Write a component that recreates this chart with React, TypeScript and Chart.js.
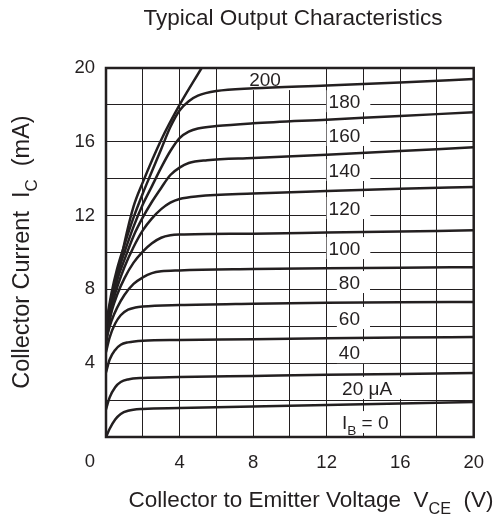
import React, { useEffect, useRef } from "react";
import { Chart, registerables } from "chart.js";

Chart.register(...registerables);

// ---- Data ----
const ib20V = [0, 0.2, 0.5, 0.8, 1.2, 2, 4, 8, 12, 16, 20];
const ib20I = [0, 0.45, 0.95, 1.25, 1.42, 1.52, 1.57, 1.65, 1.73, 1.81, 1.9];

const ib40V = [0, 0.2, 0.5, 0.8, 1.2, 2, 4, 8, 12, 16, 20];
const ib40I = [1.5, 2.15, 2.7, 2.98, 3.12, 3.2, 3.25, 3.31, 3.37, 3.42, 3.47];

const ib60V = [0, 0.2, 0.5, 0.8, 1.2, 2, 4, 8, 12, 16, 20];
const ib60I = [3.5, 4.2, 4.72, 5.0, 5.13, 5.22, 5.26, 5.3, 5.35, 5.39, 5.42];

const ib80V = [0, 0.2, 0.5, 0.8, 1.2, 1.6, 2, 4, 8, 12, 16, 20];
const ib80I = [4.6, 5.4, 6.15, 6.6, 6.9, 7.02, 7.07, 7.15, 7.22, 7.27, 7.3, 7.32];

const ib100V = [0, 0.3, 0.6, 1, 1.5, 2, 2.5, 3, 4, 8, 12, 16, 20];
const ib100I = [5.3, 6.3, 7.0, 7.7, 8.3, 8.65, 8.88, 8.98, 9.03, 9.1, 9.15, 9.18, 9.2];

const ib120V = [0, 0.3, 0.6, 1, 1.5, 2, 2.5, 3, 3.5, 4, 8, 12, 16, 20];
const ib120I = [5.6, 6.8, 7.7, 8.6, 9.45, 10.05, 10.5, 10.8, 10.93, 10.97, 11.02, 11.08, 11.14, 11.2];

const ib140V = [0, 0.3, 0.6, 1, 1.5, 2, 2.5, 3, 3.5, 4, 5, 8, 12, 16, 20];
const ib140I = [5.8, 7.1, 8.1, 9.2, 10.3, 11.2, 11.85, 12.35, 12.7, 12.9, 13.05, 13.2, 13.33, 13.45, 13.55];

const ib160V = [0, 0.3, 0.6, 1, 1.5, 2, 2.5, 3, 3.5, 4, 4.5, 5.5, 8, 12, 16, 20];
const ib160I = [5.9, 7.4, 8.5, 9.6, 10.9, 11.9, 12.75, 13.5, 14.2, 14.6, 14.85, 15.0, 15.12, 15.3, 15.5, 15.7];

const ib180V = [0, 0.3, 0.6, 1, 1.5, 2, 2.5, 3, 3.5, 4, 4.5, 5, 6, 8, 12, 16, 20];
const ib180I = [6.0, 7.6, 8.8, 10.0, 11.4, 12.6, 13.6, 14.6, 15.5, 16.2, 16.55, 16.72, 16.85, 17.0, 17.2, 17.4, 17.6];

const ib200V = [0, 0.3, 0.6, 1, 1.5, 2, 2.5, 3, 3.5, 4, 4.5, 5, 6, 8, 12, 16, 20];
const ib200I = [6.1, 7.8, 9.1, 10.4, 11.9, 13.2, 14.4, 15.6, 16.8, 17.7, 18.2, 18.5, 18.75, 18.9, 19.05, 19.22, 19.4];

const satV = [0, 0.3, 0.6, 1, 1.5, 2, 3, 4, 5.2];
const satI = [5.0, 6.9, 8.5, 10.5, 12.5, 13.8, 16.1, 18.0, 20.0];

const curveLabelText = ["200", "180", "160", "140", "120", "100", "80", "60", "40", "20 μA", "I_{B} = 0"];
const curveLabelV = [8.65, 12.97, 12.97, 12.97, 12.97, 12.97, 13.24, 13.24, 13.24, 14.2, 14.1];
const curveLabelI = [19.4, 18.2, 16.37, 14.47, 12.41, 10.24, 8.4, 6.45, 4.6, 2.66, 0.81];

const xTickValues = [4, 8, 12, 16, 20];
const yTickValues = [4, 8, 12, 16, 20];
const cornerTick = "0";

const chartTitle = "Typical Output Characteristics";
const xTitle = "Collector to Emitter Voltage  V_{CE}  (V)";
const yTitle = "Collector Current  I_{C}  (mA)";

// ---- Styling ----
const INK = "#231f20";
const FONT = '"Liberation Sans", Arial, Helvetica, sans-serif';
const TICK_SIZE = 18.5;
const LABEL_SIZE = 19;
const TITLE_SIZE = 22.5;
const YTITLE_SIZE = 23.5;

type Part = { t: string; sub: boolean };
function parseRich(s: string): Part[] {
  const parts: Part[] = [];
  const re = /_\{([^}]*)\}/g;
  let last = 0;
  let m: RegExpExecArray | null;
  while ((m = re.exec(s))) {
    if (m.index > last) parts.push({ t: s.slice(last, m.index), sub: false });
    parts.push({ t: m[1], sub: true });
    last = m.index + m[0].length;
  }
  if (last < s.length) parts.push({ t: s.slice(last), sub: false });
  return parts;
}

function richWidth(ctx: CanvasRenderingContext2D, parts: Part[], size: number) {
  let w = 0;
  for (const p of parts) {
    ctx.font = `${p.sub ? size * 0.72 : size}px ${FONT}`;
    w += ctx.measureText(p.t).width;
  }
  return w;
}

function drawRich(ctx: CanvasRenderingContext2D, s: string, x: number, y: number, size: number, align: "left" | "center") {
  const parts = parseRich(s);
  const w = richWidth(ctx, parts, size);
  let cx = align === "center" ? x - w / 2 : x;
  ctx.textAlign = "left";
  ctx.textBaseline = "alphabetic";
  const base = y + size * 0.36;
  for (const p of parts) {
    const fs = p.sub ? size * 0.72 : size;
    ctx.font = `${fs}px ${FONT}`;
    ctx.fillText(p.t, cx, p.sub ? base + size * 0.3 : base);
    cx += ctx.measureText(p.t).width;
  }
  return w;
}

function makeSet(vs: number[], is: number[]) {
  return {
    data: vs.map((v, k) => ({ x: v, y: is[k] })),
    borderColor: INK,
    borderWidth: 2.5,
    pointRadius: 0,
    fill: false,
    cubicInterpolationMode: "monotone" as const,
  };
}

const decorPlugin = {
  id: "decor",
  beforeDatasetsDraw(chart: any) {
    const ctx: CanvasRenderingContext2D = chart.ctx;
    const xs = chart.scales.x;
    const ys = chart.scales.y;
    ctx.save();
    curveLabelText.forEach((txt, k) => {
      const cx = xs.getPixelForValue(curveLabelV[k]);
      const cy = ys.getPixelForValue(curveLabelI[k]);
      const w = richWidth(ctx, parseRich(txt), LABEL_SIZE);
      const left = cx - w / 2 - 2;
      const right = cx + w / 2 + 10;
      ctx.fillStyle = "#ffffff";
      ctx.fillRect(left, cy - 11, right - left, 22);
      ctx.fillStyle = INK;
      drawRich(ctx, txt, cx, cy, LABEL_SIZE, "center");
    });
    ctx.restore();
  },
  afterDatasetsDraw(chart: any) {
    const ctx: CanvasRenderingContext2D = chart.ctx;
    const a = chart.chartArea;
    ctx.save();
    ctx.strokeStyle = INK;
    ctx.lineWidth = 2.5;
    ctx.strokeRect(a.left, a.top, a.right - a.left, a.bottom - a.top);
    ctx.restore();
  },
  afterDraw(chart: any) {
    const ctx: CanvasRenderingContext2D = chart.ctx;
    const a = chart.chartArea;
    ctx.save();
    ctx.fillStyle = INK;
    ctx.font = `${TICK_SIZE}px ${FONT}`;
    ctx.textAlign = "center";
    ctx.textBaseline = "middle";
    ctx.fillText(cornerTick, a.left - 16, a.bottom + 25);
    drawRich(ctx, chartTitle, 293, 17, TITLE_SIZE, "center");
    drawRich(ctx, xTitle, 311, 499, TITLE_SIZE, "center");
    ctx.translate(21, 252);
    ctx.rotate(-Math.PI / 2);
    drawRich(ctx, yTitle, 0, 0, YTITLE_SIZE, "center");
    ctx.restore();
  },
};

export default function App() {
  const ref = useRef<HTMLCanvasElement | null>(null);
  useEffect(() => {
    if (!ref.current) return;
    const chart = new Chart(ref.current, {
      type: "line",
      data: {
        datasets: [
          makeSet(satV, satI),
          makeSet(ib200V, ib200I),
          makeSet(ib180V, ib180I),
          makeSet(ib160V, ib160I),
          makeSet(ib140V, ib140I),
          makeSet(ib120V, ib120I),
          makeSet(ib100V, ib100I),
          makeSet(ib80V, ib80I),
          makeSet(ib60V, ib60I),
          makeSet(ib40V, ib40I),
          makeSet(ib20V, ib20I),
        ],
      },
      options: {
        animation: false,
        responsive: false,
        events: [],
        layout: { padding: { top: 68, right: 23, left: 0, bottom: 0 } },
        plugins: { legend: { display: false }, tooltip: { enabled: false }, title: { display: false } },
        scales: {
          x: {
            type: "linear",
            min: 0,
            max: 20,
            ticks: {
              stepSize: 2,
              autoSkip: false,
              maxRotation: 0,
              padding: 15,
              color: INK,
              font: { family: FONT, size: TICK_SIZE },
              callback: (v: any) => (xTickValues.includes(Number(v)) ? String(v) : ""),
            },
            grid: { color: INK, lineWidth: 1, drawTicks: false },
            border: { display: false },
            afterFit: (s: any) => {
              s.height = 90;
            },
          },
          y: {
            type: "linear",
            min: 0,
            max: 20,
            ticks: {
              stepSize: 2,
              autoSkip: false,
              padding: 11,
              color: INK,
              font: { family: FONT, size: TICK_SIZE },
              callback: (v: any) => (yTickValues.includes(Number(v)) ? String(v) : ""),
            },
            grid: { color: INK, lineWidth: 1, drawTicks: false },
            border: { display: false },
            afterFit: (s: any) => {
              s.width = 106;
            },
          },
        },
      } as any,
      plugins: [decorPlugin],
    });
    return () => chart.destroy();
  }, []);
  return (
    <div style={{ position: "absolute", left: 0, top: 0, width: 499, height: 527, background: "#fff" }}>
      <canvas ref={ref} width={499} height={527} style={{ display: "block", width: 499, height: 527 }} />
    </div>
  );
}
